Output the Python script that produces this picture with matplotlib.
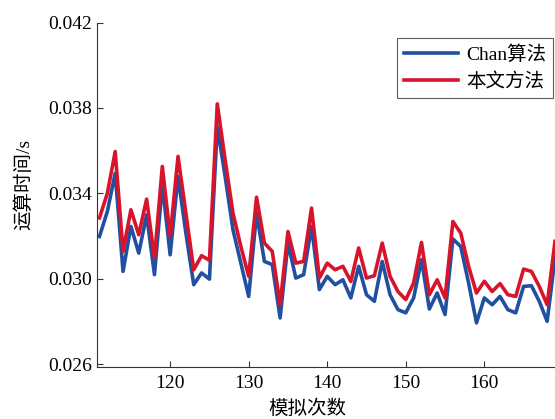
import matplotlib
matplotlib.use("Agg")
import matplotlib.pyplot as plt

plt.rcParams["font.family"] = ["Liberation Serif", "Noto Sans CJK SC"]

# 模拟次数
trials = list(range(111, 170))

# 运算时间 (s)
chan_times = [
    0.03198, 0.03315, 0.03494, 0.03034, 0.03245, 0.03120, 0.03299, 0.03019, 0.03440, 0.03112,
    0.03479, 0.03214, 0.02972, 0.03027, 0.02998, 0.03713, 0.03479, 0.03229, 0.03073, 0.02917,
    0.03307, 0.03081, 0.03066, 0.02816, 0.03167, 0.03003, 0.03019, 0.03245, 0.02949, 0.03011,
    0.02972, 0.02995, 0.02910, 0.03058, 0.02925, 0.02894, 0.03081, 0.02925, 0.02855, 0.02840,
    0.02910, 0.03089, 0.02858, 0.02933, 0.02832, 0.03186, 0.03151, 0.02980, 0.02793, 0.02910,
    0.02878, 0.02917, 0.02855, 0.02840, 0.02964, 0.02967, 0.02894, 0.02800, 0.03097,
]
ours_times = [
    0.03285, 0.03400, 0.03596, 0.03128, 0.03323, 0.03206, 0.03373, 0.03097, 0.03526, 0.03198,
    0.03573, 0.03308, 0.03042, 0.03108, 0.03086, 0.03819, 0.03557, 0.03307, 0.03151, 0.03011,
    0.03382, 0.03167, 0.03128, 0.02878, 0.03221, 0.03073, 0.03081, 0.03331, 0.03003, 0.03073,
    0.03042, 0.03058, 0.02987, 0.03144, 0.03003, 0.03014, 0.03167, 0.03011, 0.02940, 0.02902,
    0.02980, 0.03170, 0.02925, 0.02995, 0.02910, 0.03268, 0.03214, 0.03058, 0.02933, 0.02988,
    0.02940, 0.02977, 0.02925, 0.02917, 0.03045, 0.03034, 0.02964, 0.02878, 0.03175,
]

x_ticks = [120, 130, 140, 150, 160]
y_ticks = [0.026, 0.030, 0.034, 0.038, 0.042]

fig = plt.figure(figsize=(5.55, 4.19), dpi=100)
ax = fig.add_axes([0.175, 0.124, 0.825, 0.822])

ax.plot(trials, chan_times, color="#2250a0", linewidth=2.6, label="Chan算法")
ax.plot(trials, ours_times, color="#d8142c", linewidth=2.6, label="本文方法")

ax.set_xlim(110.7, 169.0)
ax.set_ylim(0.02586, 0.042)
ax.set_xticks(x_ticks)
ax.set_yticks(y_ticks)
ax.set_yticklabels([f"{v:.3f}" for v in y_ticks])
ax.tick_params(direction="in", length=4, width=0.8, labelsize=14, colors="#333333",
               labelcolor="black")
ax.tick_params(axis="x", pad=6)

ax.spines["top"].set_visible(False)
ax.spines["right"].set_visible(False)
for side in ("left", "bottom"):
    ax.spines[side].set_color("#333333")
    ax.spines[side].set_linewidth(0.8)

ax.set_xlabel("模拟次数", fontsize=14)
ax.xaxis.set_label_coords(0.459, -0.095)
ax.set_ylabel("运算时间/s", fontsize=14)
ax.yaxis.set_label_coords(-0.14, 0.53)

leg = ax.legend(loc="upper right", bbox_to_anchor=(1.0, 0.96), fontsize=14,
                frameon=True, fancybox=False, handlelength=2.8, handletextpad=0.4,
                borderpad=0.35, labelspacing=0.45, borderaxespad=0.1)
leg.get_frame().set_edgecolor("#333333")
leg.get_frame().set_linewidth(0.8)

fig.savefig("out.png", dpi=100)
